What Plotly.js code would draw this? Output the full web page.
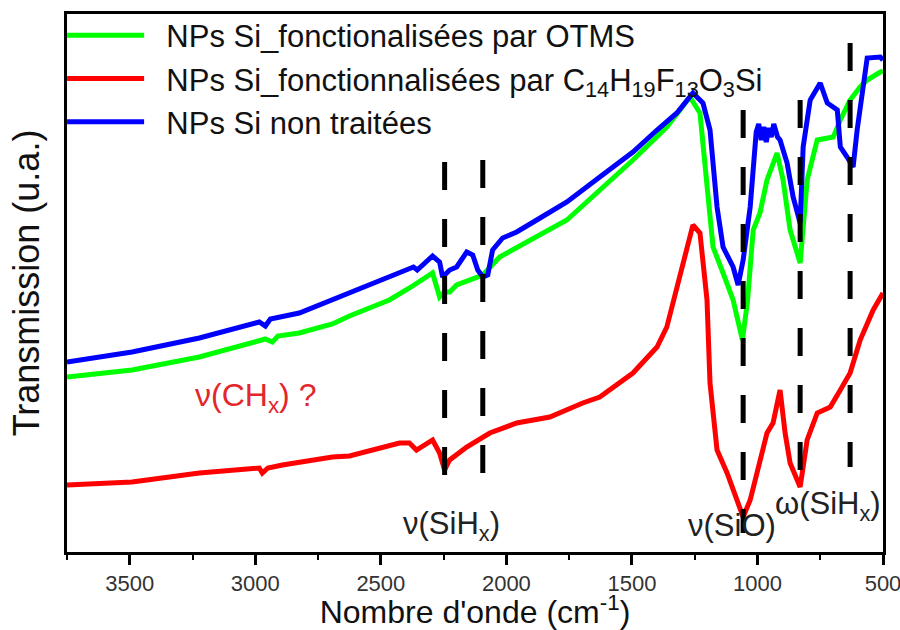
<!DOCTYPE html>
<html>
<head>
<meta charset="utf-8">
<script src="https://cdn.plot.ly/plotly-3.0.1.min.js"></script>
<style>html,body{margin:0;padding:0;background:#fff;}#chart{width:900px;height:630px;}</style>
</head>
<body>
<div id="chart"></div>
<script>
// Series: wavenumber (cm-1) and transmission (a.u.)
const greenName = "NPs Si_fonctionalisées par OTMS";
const redName = "NPs Si_fonctionnalisées par C<sub>14</sub>H<sub>19</sub>F<sub>13</sub>O<sub>3</sub>Si";
const blueName = "NPs Si non traitées";

const greenWn = [3750, 3491, 3223, 2984, 2960, 2932, 2910, 2825, 2693, 2625, 2466, 2386, 2294, 2266, 2246, 2226, 2198, 2094, 2027, 1759, 1628, 1496, 1361, 1269, 1229, 1201, 1177, 1137, 1097, 1060, 1040, 1017, 990, 962, 922, 898, 870, 830, 802, 762, 698, 670, 631, 591, 563, 511, 500];
const greenT  = [175, 182, 195, 212, 213, 210, 216, 219, 228, 236, 252, 264, 279, 255, 260, 260, 267, 277, 295, 332, 362, 392, 425, 455, 439, 372, 305, 279, 252, 212, 250, 322, 339, 372, 399, 372, 322, 289, 372, 412, 415, 432, 452, 465, 472, 480, 481];

const redWn = [3750, 3491, 3223, 2984, 2972, 2950, 2892, 2693, 2625, 2426, 2386, 2358, 2294, 2266, 2246, 2226, 2158, 2066, 1959, 1827, 1696, 1628, 1496, 1400, 1361, 1297, 1257, 1229, 1201, 1189, 1161, 1121, 1081, 1057, 1029, 990, 962, 938, 910, 890, 870, 830, 802, 762, 710, 670, 631, 591, 539, 500];
const redT  = [67, 70, 79, 84, 79, 84, 87, 95, 96, 109, 109, 102, 112, 99, 82, 92, 105, 119, 129, 135, 149, 155, 179, 205, 225, 285, 327, 319, 252, 169, 102, 79, 52, 35, 52, 92, 119, 129, 162, 119, 89, 65, 112, 139, 145, 162, 179, 212, 242, 259];

const blueWn = [3750, 3491, 3223, 2984, 2960, 2940, 2825, 2693, 2625, 2466, 2386, 2370, 2355, 2294, 2266, 2254, 2226, 2198, 2158, 2134, 2114, 2094, 2074, 2055, 2015, 1959, 1879, 1759, 1628, 1496, 1400, 1321, 1257, 1217, 1189, 1177, 1161, 1137, 1097, 1077, 1057, 1029, 1005, 995, 985, 975, 965, 955, 945, 935, 920, 910, 882, 858, 830, 818, 790, 750, 722, 682, 670, 643, 619, 603, 579, 563, 511, 500];
const blueT  = [190, 200, 214, 230, 226, 233, 239, 252, 260, 275, 283, 285, 282, 296, 290, 275, 282, 285, 300, 297, 282, 275, 277, 302, 314, 320, 332, 350, 375, 400, 422, 439, 459, 449, 422, 389, 345, 305, 285, 267, 292, 345, 420, 428, 412, 425, 410, 424, 415, 428, 415, 412, 389, 355, 329, 405, 452, 469, 449, 442, 405, 395, 385, 422, 469, 494, 495, 492];

// Band markers (dashed verticals)
const markerWn = [2246, 2094, 1057, 830, 631];
const markerTop = [390, 392, 442, 452, 509];
const markerBottom = [70, 74, 19, 75, 85];

// Tick labels
const tickVals = [3500, 3000, 2500, 2000, 1500, 1000, 500];
const tickText = ["3500", "3000", "2500", "2000", "1500", "1000", "500"];

const pad = "\u00a0\u00a0";
const traces = [
  {x: greenWn, y: greenT, name: pad + greenName, mode: "lines", line: {color: "#00ff00", width: 5}},
  {x: redWn, y: redT, name: pad + redName, mode: "lines", line: {color: "#ff0000", width: 5}},
  {x: blueWn, y: blueT, name: pad + blueName, mode: "lines", line: {color: "#0000ff", width: 5}}
];
markerWn.forEach((w, i) => {
  traces.push({x: [w, w], y: [markerTop[i], markerBottom[i]], mode: "lines", showlegend: false,
    hoverinfo: "skip", line: {color: "#000000", width: 5, dash: "28px,29px"}});
});

const font = "Liberation Sans, Arial, sans-serif";
const layout = {
  width: 900, height: 630,
  margin: {l: 67, r: 17, t: 14, b: 78, autoexpand: false},
  paper_bgcolor: "#ffffff", plot_bgcolor: "#ffffff",
  font: {family: font, color: "#222"},
  showlegend: true,
  legend: {x: -0.006, y: 1.01, xanchor: "left", yanchor: "top", bgcolor: "rgba(0,0,0,0)",
    font: {family: font, size: 31, color: "#111"}, itemwidth: 77, tracegroupgap: 0},
  xaxis: {
    range: [3750, 500], tickvals: tickVals, ticktext: tickText,
    ticks: "outside", ticklen: 10, tickwidth: 3, tickcolor: "#000",
    minor: {dtick: 250, tick0: 0, ticks: "outside", ticklen: 5, tickwidth: 2, tickcolor: "#000"},
    showline: true, linewidth: 3, linecolor: "#000", mirror: true,
    showgrid: false, zeroline: false, ticklabeloverflow: "allow", automargin: true,
    tickfont: {family: font, size: 22, color: "#333"},
    title: {text: "Nombre d'onde (cm<sup>-1</sup>)", font: {family: font, size: 32, color: "#111"}, standoff: 2}
  },
  yaxis: {
    range: [0, 538], showticklabels: false, ticks: "",
    showline: true, linewidth: 3, linecolor: "#000", mirror: true,
    showgrid: false, zeroline: false,
    title: {text: "Transmission (u.a.)", font: {family: font, size: 36, color: "#111"}, standoff: 14}
  },
  annotations: [
    {x: 2218, y: 26, xref: "x", yref: "y", text: "ν(SiH<sub>x</sub>)", showarrow: false, font: {family: font, size: 31, color: "#222"}},
    {x: 1101, y: 27, xref: "x", yref: "y", text: "ν(SiO)", showarrow: false, font: {family: font, size: 31, color: "#222"}},
    {x: 718, y: 46, xref: "x", yref: "y", text: "ω(SiH<sub>x</sub>)", showarrow: false, font: {family: font, size: 31, color: "#222"}},
    {x: 3000, y: 155, xref: "x", yref: "y", text: "ν(CH<sub>x</sub>) ?", showarrow: false, font: {family: font, size: 32, color: "#e3262b"}}
  ]
};

Plotly.newPlot("chart", traces, layout, {displayModeBar: false, staticPlot: true});
</script>
</body>
</html>
